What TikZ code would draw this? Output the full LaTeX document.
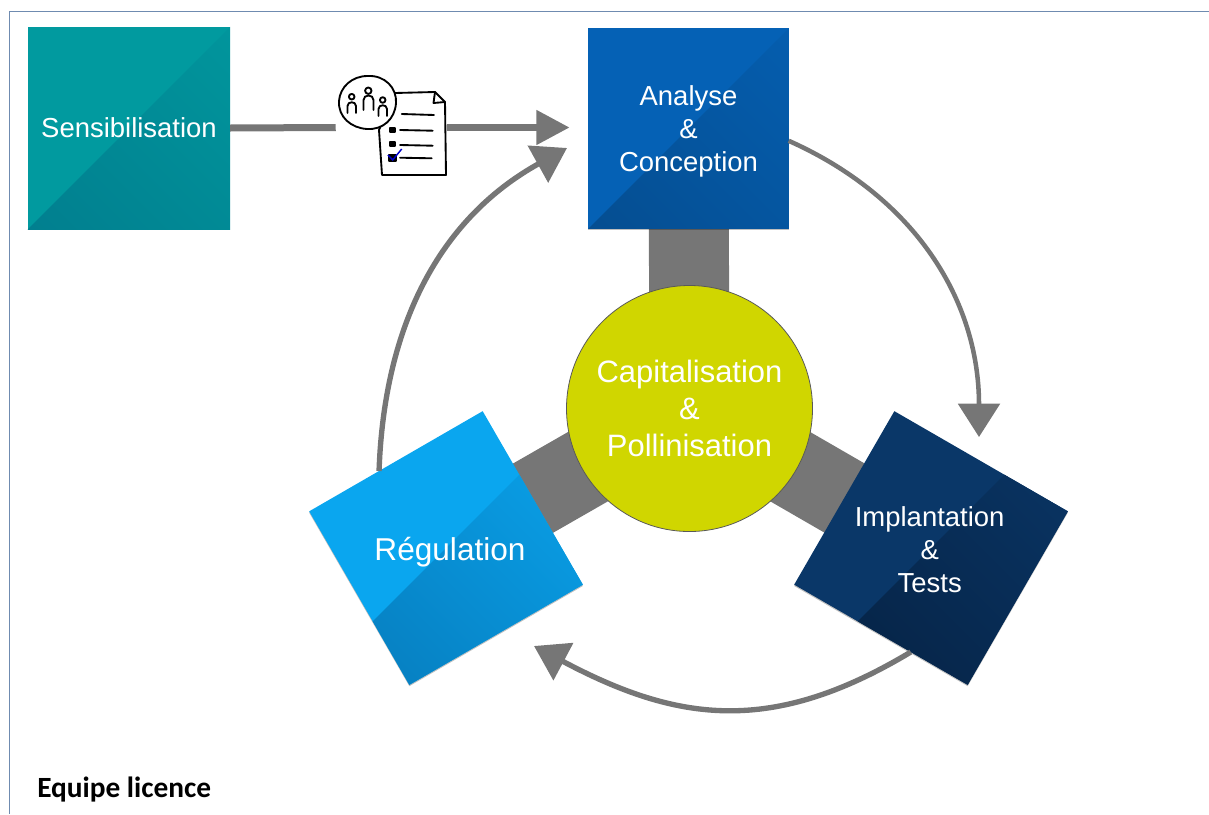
\documentclass[tikz,border=0pt]{standalone}
\usepackage{fontspec}
\setmainfont{Liberation Sans}
\newfontfamily\carlito{Carlito}
\usetikzlibrary{arrows.meta, shapes.geometric, shadows, shadings, backgrounds}

\definecolor{sensiClair}{HTML}{019A9F}
\definecolor{sensiFonce}{HTML}{017A8C}
\definecolor{analyseClair}{HTML}{0561B5}
\definecolor{analyseFonce}{HTML}{054A8A}
\definecolor{implantClair}{HTML}{0A3768}
\definecolor{implantFonce}{HTML}{052040}
\definecolor{regulClair}{HTML}{0AA6EF}
\definecolor{regulFonce}{HTML}{0678B8}
\definecolor{capitalJaune}{HTML}{D0D600}
\definecolor{fleche}{HTML}{767676}
\definecolor{cadre}{HTML}{6F8BB0}

\tikzset{
	carre/.style n args={3}{regular polygon, regular polygon sides=4, shape border rotate=#1,
		minimum size=212.5pt, inner sep=0pt, outer sep=0pt, fill=#2,
		drop shadow={shadow xshift=0pt, shadow yshift=-1pt, opacity=.25, fill=black},
		path picture={\shade[lower left=#3, upper right=#2, lower right=#3!50!#2, upper left=#3!50!#2]
			(-145,145) -- (145,-145) -- (145,145) -- cycle;}},
	etiquette/.style={text=white, align=center, inner sep=0pt, font=\fontsize{20.6}{24.75}\selectfont},
	barre/.style={draw=fleche, line width=60pt},
	courbe/.style={draw=fleche, line width=4pt, -{Triangle[length=25pt, width=31pt]}},
	trait/.style={black, line width=1.4pt, line cap=round, line join=round}
}

\begin{document}
\begin{tikzpicture}[x=0.75pt, y=-0.75pt]
	\useasboundingbox (0, 0) rectangle (1209, 814);
	\draw[cadre, line width=0.9pt] (1209, 11.5) -- (9.5, 11.5) -- (9.5, 814);

	\node[carre={0}{sensiClair}{sensiFonce}, minimum size=214.5pt, label={[etiquette]center:Sensibilisation}] (sensibilisation) at (129, 128) {};
	\node[carre={0}{analyseClair}{analyseFonce}, label={[etiquette, yshift=-2.25pt]center:Analyse\\\&\\Conception}] (analyse) at (688.5, 128.5) {};
	\node[carre={-30}{implantClair}{implantFonce}, label={[etiquette, xshift=-1pt, yshift=-1.5pt]center:Implantation\\\&\\Tests}] (implantation) at (931, 548) {};
	\node[carre={30}{regulClair}{regulFonce}, label={[etiquette, xshift=3pt, yshift=-3pt, font=\fontsize{23.7}{28}\selectfont]center:Régulation}] (regulation) at (446, 548) {};
	\node[circle, draw=black!65, line width=0.6pt, fill=capitalJaune, minimum size=184.5pt, inner sep=0pt, text=white, align=center,
		font=\fontsize{23.2}{27.7}\selectfont] (capitalisation) at (689.5, 408.5) {Capitalisation\\\&\\Pollinisation};
	\node[minimum width=83.25pt, minimum height=75pt, inner sep=0pt] (questionnaire) at (391.5, 127.5) {};
	\node[anchor=west, inner sep=0pt, font=\carlito\bfseries\fontsize{22}{26}\selectfont] (equipe) at (37, 790) {Equipe licence};

	\coordinate (pointeImplantation) at (979, 437);
	\coordinate (pointeRegulation) at (534, 646);
	\coordinate (pointeAnalyse) at (567, 148);

	\begin{scope}[on background layer]
		\draw[barre] (capitalisation.center) -- (analyse.center);
		\draw[barre] (capitalisation.center) -- (implantation.center);
		\draw[barre] (capitalisation.center) -- (regulation.center);
	\end{scope}

	\draw[fleche, line width=5.25pt] (sensibilisation.east) -- (questionnaire.west);
	\draw[fleche, line width=5.25pt, -{Triangle[length=25pt, width=25pt]}, shorten >=14pt] (questionnaire.east) -- (analyse.west |- questionnaire.east);
	\draw[courbe, line width=3.4pt] (analyse.-7) to[out=-24, in=90] (pointeImplantation);
	\draw[courbe] (implantation.-101) to[out=211, in=-28, looseness=1.1] (pointeRegulation);
	\draw[courbe] (regulation.131) to[out=88, in=209] (pointeAnalyse);

	% questionnaire
	\draw[trait, fill=white] (395, 93) -- (435, 92) -- (445, 102) -- (446, 175) -- (382, 175) -- (379, 130) -- cycle;
	\draw[trait] (435, 92) -- (433.5, 103) -- (445, 102);
	\draw[trait, fill=white] (367.5, 76) .. controls (385, 75) and (397, 88) .. (396, 103) .. controls (395, 119) and (383, 130) .. (367, 129) .. controls (351, 128) and (338, 117) .. (339, 101) .. controls (340, 87) and (352, 76) .. (367.5, 76);
	\draw[trait] (401.7, 114) -- (434, 115);
	\draw[trait] (400, 130) -- (432.7, 130.7);
	\draw[trait] (400, 145) -- (432.7, 145.7);
	\draw[trait] (400, 157.7) -- (431.7, 158.3);
	\filldraw[trait] (390, 128) rectangle (395, 132);
	\filldraw[trait] (390, 142) rectangle (395, 146);
	\filldraw[trait] (389, 155) rectangle (396, 161);
	\draw[blue!80!black, line width=1.1pt] (388, 155) -- (392.7, 160) -- (401.7, 149);
	\draw[trait] (351.7, 96.7) circle (2.8);
	\draw[trait] (368.3, 90.7) circle (3.2);
	\draw[trait] (382.7, 100) circle (2.8);
	\draw[trait] (347.5, 113) -- (347.5, 106) .. controls (347.5, 101) and (356, 101) .. (356, 106) -- (356, 113);
	\draw[trait] (363.5, 110) -- (363.5, 100) .. controls (363.5, 94) and (373.5, 94) .. (373.5, 100) -- (373.5, 110);
	\draw[trait] (378.5, 116) -- (378.5, 109) .. controls (378.5, 104) and (387, 104) .. (387, 109) -- (387, 116);
\end{tikzpicture}
\end{document}
